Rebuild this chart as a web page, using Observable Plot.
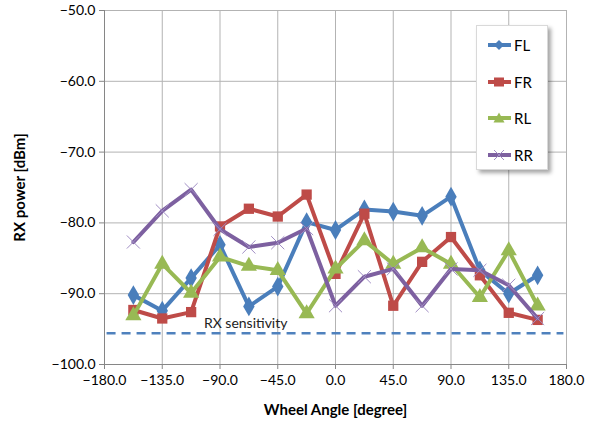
<!DOCTYPE html>
<html><head><meta charset="utf-8">
<script src="https://cdn.jsdelivr.net/npm/d3@7"></script>
<script src="https://cdn.jsdelivr.net/npm/@observablehq/plot@0.6"></script>
<style>
body{margin:0;background:#fff;}
#wrap{position:relative;width:615px;height:432px;font-family:Lato,"Open Sans",sans-serif;}
#wrap svg{font-family:Lato,"Open Sans",sans-serif;}
g[aria-label="x-axis label"] text, g[aria-label="y-axis label"] text{font-weight:bold;font-size:15px;fill:#000;}
#legend{position:absolute;left:476px;top:25px;width:72px;height:145px;background:#fff;border:1px solid #d9d9d9;box-shadow:3px 3px 4px rgba(0,0,0,0.35);box-sizing:border-box;}
.li{position:absolute;left:10px;height:20px;display:flex;align-items:center;font-size:15px;color:#000;}
.li svg{margin-right:2px;}
</style></head>
<body><div id="wrap"></div>
<script>
const angles = [-157.5,-135,-112.5,-90,-67.5,-45,-22.5,0,22.5,45,67.5,90,112.5,135,157.5];
const FL = [-90.2,-92.4,-87.8,-83.1,-91.8,-89.0,-79.9,-81.0,-78.1,-78.4,-79.0,-76.3,-86.7,-90.0,-87.4];
const FR = [-92.3,-93.5,-92.6,-80.5,-78.0,-79.1,-76.0,-87.2,-78.7,-91.7,-85.5,-82.0,-87.4,-92.7,-93.7];
const RL = [-93.1,-85.8,-89.9,-84.8,-86.1,-86.7,-92.8,-86.5,-82.5,-85.8,-83.5,-85.8,-90.5,-83.9,-91.7];
const RR = [-82.7,-78.3,-75.3,-80.9,-83.4,-82.8,-80.8,-91.7,-87.6,-86.5,-91.7,-86.5,-86.7,-88.8,-93.5];
const seriesNames = ["FL","FR","RL","RR"];
const xTicks = [-180,-135,-90,-45,0,45,90,135,180];
const yTicks = [-100,-90,-80,-70,-60,-50];
const sensitivity = -95.6;
const sensitivityLabel = "RX sensitivity";

const colors = {FL:"#4a7ebb",FR:"#be4b48",RL:"#98b954",RR:"#7d60a0"};
const symbols = {FL:"diamond",FR:"square",RL:"triangle",RR:"times"};
const values = {FL,FR,RL,RR};
const rows = seriesNames.flatMap(s => angles.map((a,i)=>({series:s,angle:a,power:values[s][i]})));

const marks = [
  Plot.gridX(xTicks,{stroke:"#b3b3b3",strokeOpacity:1}),
  Plot.gridY(yTicks,{stroke:"#b3b3b3",strokeOpacity:1}),
  Plot.ruleX([-180],{stroke:"#868686"}),
  Plot.ruleY([-100],{stroke:"#868686"}),
  Plot.axisX(xTicks,{tickFormat:d3.format(".1f"),tickSize:5,tickPadding:6,fontSize:14,stroke:"#868686",color:"#000",label:"Wheel Angle [degree]",labelAnchor:"center",labelArrow:"none",labelOffset:50}),
  Plot.axisY(yTicks,{tickFormat:d3.format(".1f"),tickSize:5,tickPadding:4,fontSize:14,stroke:"#868686",color:"#000",label:"RX power [dBm]",labelAnchor:"center",labelArrow:"none",labelOffset:90}),
  Plot.ruleY([sensitivity],{stroke:"#4f81bd",strokeWidth:2.5,strokeDasharray:"9,6",x1:-178,x2:178}),
  Plot.text([sensitivityLabel],{x:-70,y:-94.2,text:d=>d,fontSize:14,fill:"#222"})
];
for (const s of seriesNames) {
  const d = rows.filter(r=>r.series===s);
  marks.push(Plot.line(d,{x:"angle",y:"power",stroke:colors[s],strokeWidth:4}));
  if (s==="RR") marks.push(Plot.dot(d,{x:"angle",y:"power",symbol:"times",r:6,stroke:"#a08dc4",strokeWidth:1}));
  else marks.push(Plot.dot(d,{x:"angle",y:"power",symbol:symbols[s],r:s==="FR"?5.8:6,fill:colors[s],stroke:"none"}));
}

const chart = Plot.plot({
  width:615,height:432,
  marginLeft:104,marginRight:49,marginTop:10,marginBottom:68,
  x:{domain:[-180,180]},
  y:{domain:[-100,-50]},
  marks
});
const wrap = document.getElementById("wrap");
wrap.appendChild(chart);

// legend
const leg = document.createElement("div");
leg.id="legend";
const sym = {
  FL:'<path d="M12,3 L17,8 L12,13 L7,8Z" fill="#4a7ebb"/>',
  FR:'<rect x="7" y="3.5" width="10" height="9" fill="#be4b48"/>',
  RL:'<path d="M12,2.5 L17.5,12.5 L6.5,12.5Z" fill="#98b954"/>',
  RR:'<path d="M7,3 L17,13 M17,3 L7,13" stroke="#a08dc4" stroke-width="1"/>'
};
seriesNames.forEach((s,i)=>{
  const e=document.createElement("div");
  e.className="li";
  e.style.top=(9+i*36.5)+"px";
  e.innerHTML=`<svg width="25" height="16"><line x1="1" x2="24" y1="8" y2="8" stroke="${colors[s]}" stroke-width="4"/>${sym[s]}</svg><span>${s}</span>`;
  leg.appendChild(e);
});
wrap.appendChild(leg);
</script></body></html>
